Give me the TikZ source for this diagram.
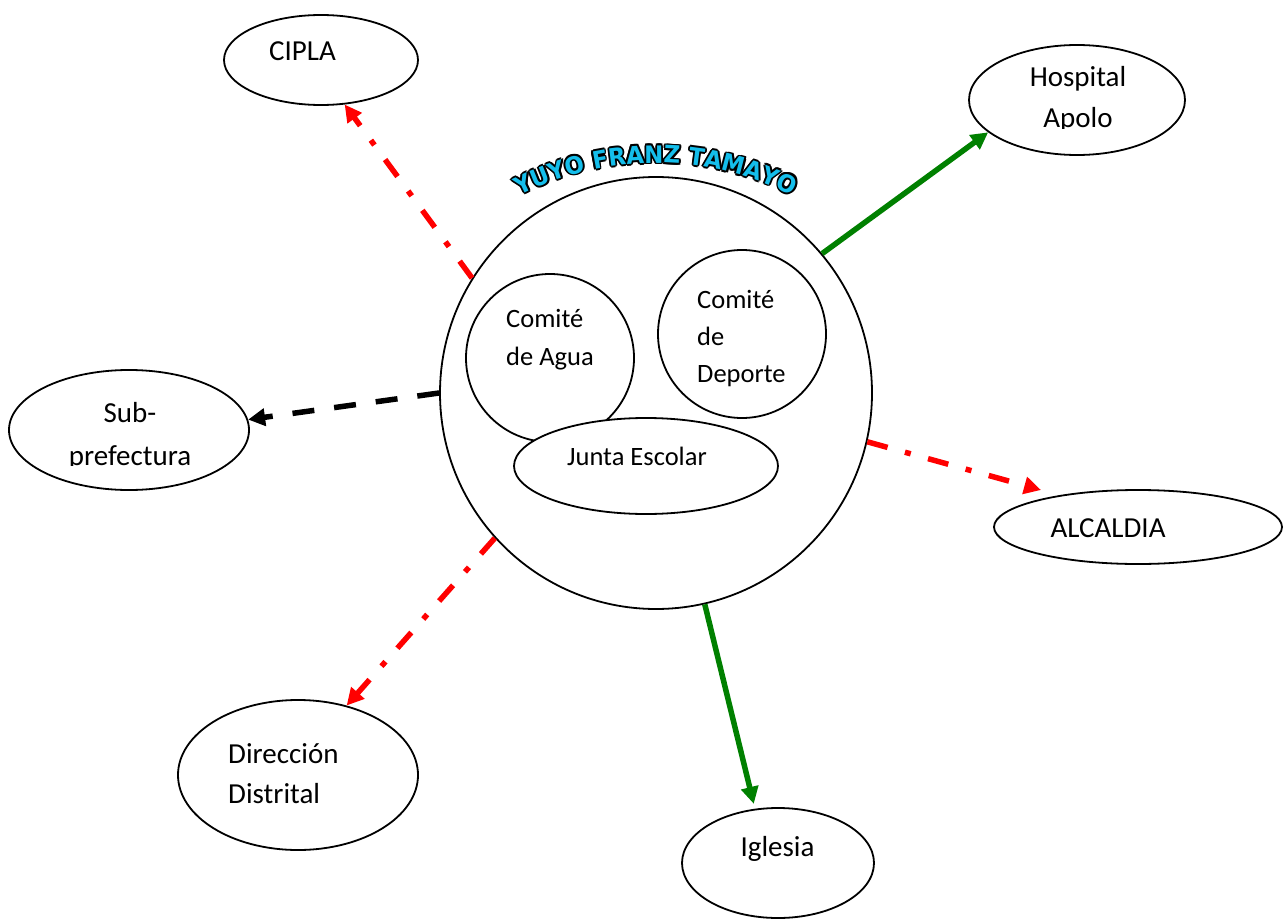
\documentclass[tikz,border=0pt]{standalone}
\usepackage{fontspec}
\setmainfont{Carlito}
\newfontfamily\ttlfont{DejaVu Sans}[FakeStretch=0.95]
\usetikzlibrary{shapes.geometric,arrows.meta,decorations.text}
\definecolor{arrred}{RGB}{255,0,0}
\definecolor{arrgreen}{RGB}{0,128,0}
\definecolor{wacyan}{RGB}{20,190,235}
\newcommand\ttlstyle{\ttlfont\bfseries\fontsize{24}{24}\selectfont}
\newcommand\innerfs{\fontsize{26.5}{38}\selectfont}
\newcommand\outerfs{\fontsize{29}{41}\selectfont}
\begin{document}
\begin{tikzpicture}[x=1pt,y=-1pt,
  shp/.style={draw, line width=1.8pt, inner sep=0pt},
  oval/.style={shp, ellipse},
  ring/.style={shp, circle},
  lbl/.style={anchor=base west, inner sep=0pt, font=\outerfs},
  lblc/.style={anchor=base, inner sep=0pt, font=\outerfs},
  ilbl/.style={anchor=base west, inner sep=0pt, font=\innerfs},
  tipped/.style={-{Triangle[length=17pt,width=17pt]}, line width=5.5pt},
  reddd/.style={tipped, draw=arrred, dash pattern=on 21pt off 18pt on 6pt off 18pt},
  greenarr/.style={tipped, draw=arrgreen},
  blackdash/.style={tipped, draw=black, dash pattern=on 22pt off 20pt},
  ttlpath/.style={decorate, decoration={text along path, text align=center, text={|\ttlstyle\color{#1}|YUYO FRANZ TAMAYO}}}
]
\useasboundingbox (0,0) rectangle (1287,920);

% central circle and inner groups
\node[ring, minimum size=432pt] (main) at (656,393) {};
\node[ring, minimum size=168pt] (agua) at (550,358) {};
\node[ring, minimum size=168pt] (deporte) at (742,334) {};
\node[oval, fill=white, minimum width=264pt, minimum height=96pt] (junta) at (646,466) {};

\node[ilbl] (aguaT1) at (506,327) {Comité};
\node[ilbl] (aguaT2) at (506,365) {de Agua};
\node[ilbl] (depT1) at (697,308) {Comité};
\node[ilbl] (depT2) at (697,345) {de};
\node[ilbl] (depT3) at (697,382) {Deporte};
\node[ilbl] (juntaT) at (567,465) {Junta Escolar};

% outer institutions
\node[oval, minimum width=194pt, minimum height=90pt] (cipla) at (321,60) {};
\node[oval, minimum width=216pt, minimum height=110pt] (hosp) at (1077,100) {};
\node[oval, minimum width=240pt, minimum height=120pt] (sub) at (129,430) {};
\node[oval, minimum width=288pt, minimum height=74pt] (alc) at (1138,527) {};
\node[oval, minimum width=240pt, minimum height=150pt] (dir) at (298,775) {};
\node[oval, minimum width=192pt, minimum height=110pt] (igl) at (778,863) {};

\node[lbl] (ciplaT) at (269,61) {CIPLA};
\node[lblc] (hospT1) at (1078,87) {Hospital};
\begin{scope}
  \clip (960,0) rectangle (1200,128.5);
  \node[lblc] (hospT2) at (1078,128) {Apolo};
\end{scope}
\node[lblc] (subT1) at (130,422) {Sub-};
\begin{scope}
  \clip (0,430) rectangle (260,465.5);
  \node[lblc] (subT2) at (130,465) {prefectura};
\end{scope}
\node[lblc] (alcT) at (1108,537) {ALCALDIA};
\node[lbl] (dirT1) at (228,763) {Dirección};
\node[lbl] (dirT2) at (228,803) {Distrital};
\node[lblc] (iglT) at (777.5,856) {Iglesia};

% connectors
\coordinate (alcTip) at (1041,490);
\draw[reddd] (main.148) -- (cipla.-62);
\draw[greenarr] (main.40) -- (hosp.-160);
\draw[blackdash] (main.180) -- (sub.5);
\draw[reddd] (main.-13) -- (alcTip);
\draw[reddd] (main.-138) -- (dir.55);
\draw[greenarr, shorten >=5pt] (main.-77) -- (igl.113);

% title on arc (WordArt style: cyan fill, black outline)
\foreach \dx/\dy in {1.8/0,-1.8/0,0/1.8,0/-1.8,1.3/1.3,-1.3/1.3,1.3/-1.3,-1.3/-1.3}{
  \path[ttlpath=black, shift={(\dx,\dy)}] (656,464) ++(232:301) arc[start angle=232, end angle=308, radius=301];
}
\path[ttlpath=wacyan] (656,464) ++(232:301) arc[start angle=232, end angle=308, radius=301];
\end{tikzpicture}
\end{document}
